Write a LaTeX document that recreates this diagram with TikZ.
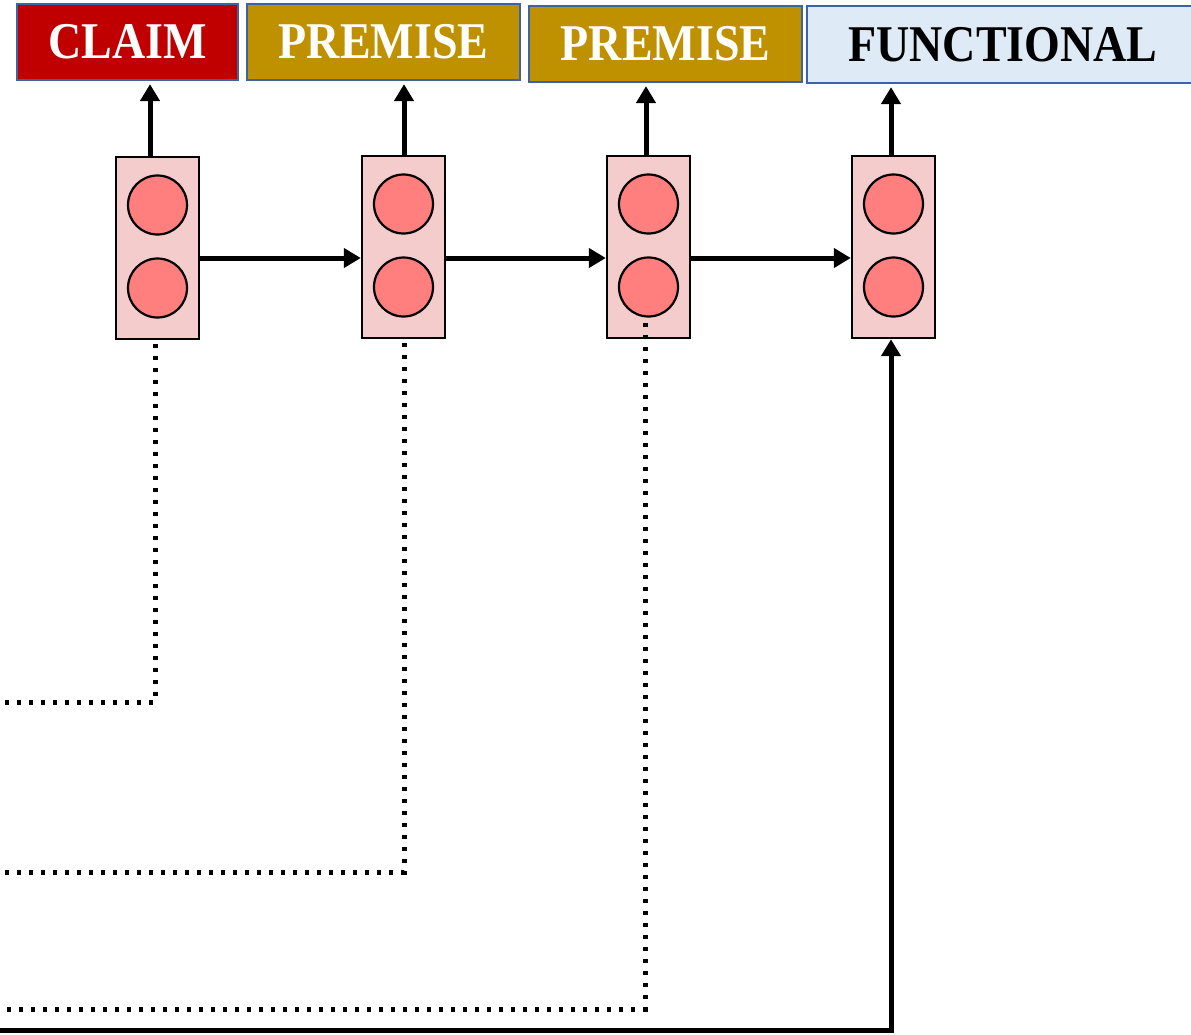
\documentclass[tikz,border=0pt]{standalone}
\usepackage{fontspec}
\setmainfont{Liberation Serif}
\usetikzlibrary{arrows.meta,calc}
\definecolor{claimred}{HTML}{C00000}
\definecolor{premgold}{HTML}{BF9000}
\definecolor{funcblue}{HTML}{DEEBF7}
\definecolor{lblborder}{HTML}{3B64A8}
\definecolor{cellpink}{HTML}{F4CCCC}
\definecolor{dotred}{HTML}{FF7F7F}
\newcommand{\tallcaps}[1]{\scalebox{1}[1.12]{#1}}
\tikzset{
  lbl/.style={draw=lblborder, line width=2.2pt, minimum height=76pt, inner sep=0pt,
    font=\fontsize{46}{50}\selectfont\bfseries},
  cellbox/.style={draw=black, line width=2.4pt, fill=cellpink, minimum width=83pt, minimum height=182pt, inner sep=0pt},
  unit/.style={circle, draw=black, line width=2.2pt, fill=dotred, minimum size=59pt, inner sep=0pt},
  arr/.style={line width=5pt, -{Triangle[length=17pt,width=19pt]}},
  dotline/.style={line width=5pt, dash pattern=on 4pt off 8pt},
}
\begin{document}
\begin{tikzpicture}[x=1pt,y=-1pt]
\useasboundingbox (0,0) rectangle (1191,1034);
% labels
\node[lbl, fill=claimred, text=white, minimum width=221pt] (claim) at (127.5,42) {\tallcaps{CLAIM}};
\node[lbl, fill=premgold, text=white, minimum width=273pt] (prem1) at (383.5,42) {\tallcaps{PREMISE}};
\node[lbl, fill=premgold, text=white, minimum width=273pt] (prem2) at (665.5,44) {\tallcaps{PREMISE}};
\node[lbl, fill=funcblue, text=black, minimum width=392pt, minimum height=77pt] (func) at (1003,44.5) {\tallcaps{FUNCTIONAL}};
% cells
\foreach \i/\x/\y in {1/157.5/248, 2/403.5/247, 3/648.5/247, 4/893.5/247}{
  \node[cellbox] (cell\i) at (\x,\y) {};
  \node[unit] (u\i a) at (\x,\y-43) {};
  \node[unit] (u\i b) at (\x,\y+40) {};
}
% horizontal arrows
\draw[arr] ([yshift=-10pt]cell1.east) -- ([yshift=-10pt]cell1.east -| cell2.west);
\draw[arr] ([yshift=-11pt]cell2.east) -- ([yshift=-11pt]cell2.east -| cell3.west);
\draw[arr] ([yshift=-11pt]cell3.east) -- ([yshift=-11pt]cell3.east -| cell4.west);
% up arrows
\draw[arr] (cell1.north -| 150,0) -- ($(claim.south -| 150,0)+(0,3)$);
\draw[arr] (cell2.north -| 404,0) -- ($(prem1.south -| 404,0)+(0,3)$);
\draw[arr] (cell3.north -| 646,0) -- ($(prem2.south -| 646,0)+(0,3)$);
\draw[arr] (cell4.north -| 891,0) -- ($(func.south -| 891,0)+(0,3)$);
% dotted feeds
\coordinate (e1) at (-5,702);
\coordinate (e2) at (-5,872);
\coordinate (e3) at (-5,1009);
\coordinate (e4) at (-5,1030);
\draw[dotline] ($(cell1.south -| 155,0)+(0,4)$) -- (155,702) -- (e1);
\draw[dotline] ($(cell2.south -| 404,0)+(0,4)$) -- (404,872) -- (e2);
\draw[dotline] ($(cell3.south -| 645,0)+(0,-16)$) -- (645,1009) -- (e3);
\draw[arr] (e4) -- (891,1030) -- (cell4.south -| 891,0);
\end{tikzpicture}
\end{document}
